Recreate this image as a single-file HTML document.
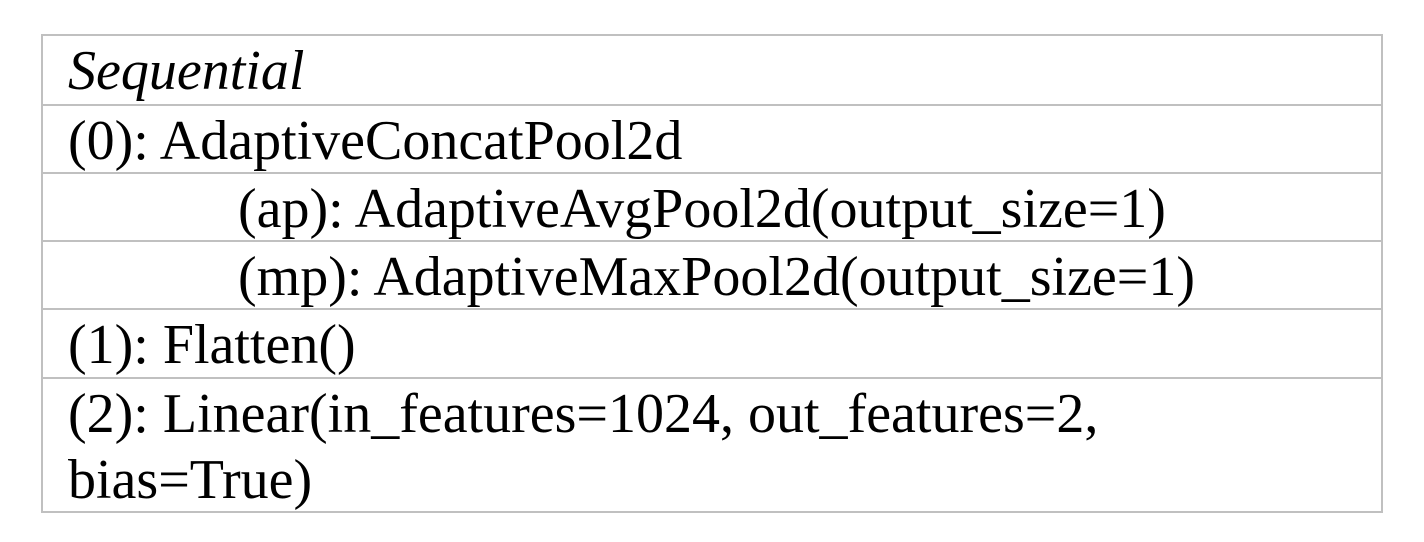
<!DOCTYPE html>
<html><head><meta charset="utf-8"><style>
html,body{margin:0;padding:0;background:#fff;width:1424px;height:542px;overflow:hidden}
.t{position:absolute;left:41px;top:34px;width:1338px;border:2px solid #c0c0c0;font-family:"Liberation Serif",serif;font-size:56px;color:#000}
.r{border-top:2px solid #c0c0c0;padding:2px 0 0 25px;line-height:66px;box-sizing:border-box;white-space:nowrap;overflow:hidden}
.r:first-child{border-top:none}
.i{padding-left:195px}
</style></head><body>
<div class="t">
<div class="r" style="height:68px"><i>Sequential</i></div>
<div class="r" style="height:68px">(0): AdaptiveConcatPool2d</div>
<div class="r i" style="height:68px">(ap): AdaptiveAvgPool2d(output_size=1)</div>
<div class="r i" style="height:68px">(mp): AdaptiveMaxPool2d(output_size=1)</div>
<div class="r" style="height:69px">(1): Flatten()</div>
<div class="r" style="height:134px">(2): Linear(in_features=1024, out_features=2,<br>bias=True)</div>
</div>
</body></html>
